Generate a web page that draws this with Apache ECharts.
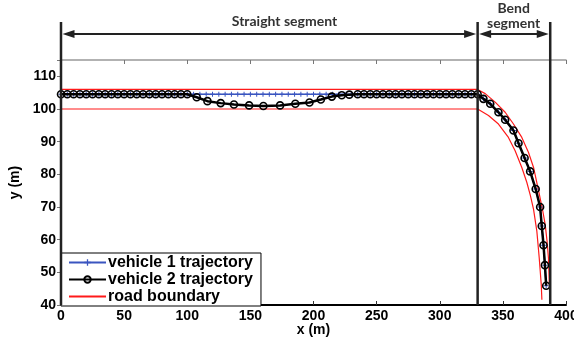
<!DOCTYPE html>
<html>
<head>
<meta charset="utf-8">
<script src="https://cdn.jsdelivr.net/npm/echarts@6/dist/echarts.min.js"></script>
<style>html,body{margin:0;padding:0;background:#fff}#c{width:574px;height:339px}</style>
</head>
<body>
<div id="c"></div>
<script>
// ---- data ----
const v1X = [0,5,10,15,20,25,30,35,40,45,50,55,60,65,70,75,80,85,90,95,100,105,110,115,120,125,130,135,140,145,150,155,160,165,170,175,180,185,190,195,200,205,210,215,220,225,230,235,240,245,250,255,260,265,270,275,280,285,290,295,300,305,310,315,320,325,330,334.6,340,346.5,351.8,358.4,362.4,367.2,371.6,376,379.5,380.8,382.2,383.3,384.3];
const v1Y = [104.5,104.5,104.5,104.5,104.5,104.5,104.5,104.5,104.5,104.5,104.5,104.5,104.5,104.5,104.5,104.5,104.5,104.5,104.5,104.5,104.5,104.5,104.5,104.5,104.5,104.5,104.5,104.5,104.5,104.5,104.5,104.5,104.5,104.5,104.5,104.5,104.5,104.5,104.5,104.5,104.5,104.5,104.5,104.5,104.5,104.5,104.5,104.5,104.5,104.5,104.5,104.5,104.5,104.5,104.5,104.5,104.5,104.5,104.5,104.5,104.5,104.5,104.5,104.5,104.5,104.5,104.5,103.1,101.6,99,96.7,93.4,89.5,85,80.9,75.5,70,64.2,58.3,52.2,45.9];

const v2X = [0,5,10,15,20,25,30,35,40,45,50,55,60,65,70,75,80,85,90,95,100,107.5,116,126.5,137,149,160.3,173.5,185.6,196.8,205.8,214.5,222.4,228.4,235,240,245,250,255,260,265,270,275,280,285,290,295,300,305,310,315,320,325,330,334.6,340,346.5,351.8,358.4,362.4,367.2,371.6,376,379.5,380.8,382.2,383.3,384.3];
const v2Y = [104.5,104.5,104.5,104.5,104.5,104.5,104.5,104.5,104.5,104.5,104.5,104.5,104.5,104.5,104.5,104.5,104.5,104.5,104.5,104.5,104.5,103.6,102.4,101.8,101.4,101.1,100.9,101.1,101.6,102,102.9,103.8,104.2,104.4,104.5,104.5,104.5,104.5,104.5,104.5,104.5,104.5,104.5,104.5,104.5,104.5,104.5,104.5,104.5,104.5,104.5,104.5,104.5,104.5,103.1,101.6,99,96.7,93.4,89.5,85,80.9,75.5,70,64.2,58.3,52.2,45.9];

const roadOuterX = [0,330,336,343.9,351.8,358.4,365,370.3,374.3,378.8,381.5,383.5,385,386.1,386.9,387.2];
const roadOuterY = [106,106,104.7,102.1,99,95.4,91.3,86.7,82.1,74,69,64.7,59.5,54.4,45.2,41];
const roadInnerX = [0,330,338.6,346.5,354.4,359.7,365,369,371.8,374.3,376.9,378.8,380.4,380.9];
const roadInnerY = [100,100,98,95.4,91.3,87.2,82.1,77.5,73.5,69.3,62.6,54.4,46.2,41.6];

const seriesNames = ['vehicle 1 trajectory','vehicle 2 trajectory','road boundary'];
const segmentBounds = [0, 330, 387.5];
const segmentLabels = ['Straight segment', 'Bend\nsegment'];
const segmentLabelX = [177, 358.5];
const xName = 'x (m)', yName = 'y (m)';

const pairs = (xs, ys) => xs.map((x, i) => [x, ys[i]]);
const FF = '"Liberation Sans", Arial, sans-serif';

const chart = echarts.init(document.getElementById('c'), null, {renderer: 'canvas'});
const lab = {fontSize: 14, fontWeight: 'bold', color: '#000', fontFamily: FF};
chart.setOption({
  animation: false,
  grid: {left: 61, right: 8, top: 60, bottom: 34, outerBoundsMode: 'none', containLabel: false},
  legend: {
    data: [
      {name: seriesNames[0]},
      {name: seriesNames[1]},
      {name: seriesNames[2], itemStyle: {color: 'rgba(0,0,0,0)', borderWidth: 0}}
    ],
    orient: 'vertical', left: 61, top: 253,
    itemWidth: 37, itemHeight: 8, itemGap: 0, padding: [1, 8, 1, 7],
    backgroundColor: '#fff', borderColor: '#000', borderWidth: 1, borderRadius: 0,
    textStyle: {fontSize: 16, fontWeight: 'bold', color: '#000', fontFamily: FF, lineHeight: 17, padding: [0,0,0,-3]},
    z: 10
  },
  xAxis: [
    {type: 'value', min: 0, max: 400, interval: 50, position: 'bottom',
     axisLine: {lineStyle: {color: '#000', width: 2}},
     axisTick: {inside: true, length: 4, lineStyle: {color: '#333'}},
     axisLabel: Object.assign({margin: 4}, lab), splitLine: {show: false},
     name: xName, nameLocation: 'middle', nameGap: 18, nameMoveOverlap: false, nameTextStyle: lab},
    {type: 'value', min: 0, max: 400, interval: 50, position: 'top',
     axisLine: {lineStyle: {color: '#999', width: 1.5}},
     axisTick: {inside: true, length: 4, lineStyle: {color: '#777'}},
     axisLabel: {show: false}, splitLine: {show: false}}
  ],
  yAxis: [
    {type: 'value', min: 40, max: 115, interval: 10, position: 'left',
     axisLine: {lineStyle: {color: '#000', width: 2}},
     axisTick: {inside: false, length: 3, lineStyle: {color: '#333'}},
     axisLabel: Object.assign({margin: 5, showMaxLabel: false}, lab), splitLine: {show: false},
     name: yName, nameLocation: 'middle', nameGap: 36, nameTextStyle: lab},
    {type: 'value', min: 40, max: 115, interval: 10, position: 'right',
     axisLine: {lineStyle: {color: '#999', width: 1.5}},
     axisTick: {inside: true, length: 4, lineStyle: {color: '#777'}},
     axisLabel: {show: false}, splitLine: {show: false}}
  ],
  series: [
    {name: seriesNames[2], type: 'line', data: pairs(roadOuterX, roadOuterY), symbol: 'none',
     lineStyle: {color: '#ff1a1a', width: 1.2}, itemStyle: {color: '#ff1a1a'}, z: 2},
    {name: seriesNames[2], type: 'line', data: pairs(roadInnerX, roadInnerY), symbol: 'none',
     lineStyle: {color: '#ff1a1a', width: 1.2}, itemStyle: {color: '#ff1a1a'}, z: 2},
    {name: seriesNames[0], type: 'line', data: pairs(v1X, v1Y),
     symbol: 'path://M4,0H6V4H10V6H6V10H4V6H0V4H4Z', symbolSize: 5,
     lineStyle: {color: '#3a55c0', width: 1.5}, itemStyle: {color: '#3a55c0'}, z: 3},
    {name: seriesNames[1], type: 'line', data: pairs(v2X, v2Y),
     symbol: 'circle', symbolSize: 7,
     lineStyle: {color: '#000', width: 2.5},
     itemStyle: {color: 'rgba(255,255,255,0)', borderColor: '#000', borderWidth: 1.6}, z: 4}
  ]
});

// ---- segment annotations placed from data values via the axes ----
const plotTop = chart.convertToPixel({gridIndex: 0}, [0, 115])[1];
const plotBottom = chart.convertToPixel({gridIndex: 0}, [0, 40])[1];
const bx = segmentBounds.map(v => chart.convertToPixel({gridIndex: 0}, [v, 40])[0]);
const lineTop = plotTop - 38, arrowY = plotTop - 26;
const col = '#222';
const g = [];
bx.forEach(x => g.push({type: 'line', shape: {x1: x, y1: lineTop, x2: x, y2: plotBottom},
  style: {stroke: col, lineWidth: 2.5}, z: 20}));
const head = 12, hh = 4;
for (let i = 0; i < bx.length - 1; i++) {
  const a = bx[i] + 1.5, b = bx[i + 1] - 1.5;
  g.push({type: 'line', shape: {x1: a + head - 2, y1: arrowY, x2: b - head + 2, y2: arrowY},
    style: {stroke: col, lineWidth: 2}, z: 20});
  g.push({type: 'polygon', shape: {points: [[a, arrowY], [a + head, arrowY - hh], [a + head, arrowY + hh]]},
    style: {fill: col}, z: 20});
  g.push({type: 'polygon', shape: {points: [[b, arrowY], [b - head, arrowY - hh], [b - head, arrowY + hh]]},
    style: {fill: col}, z: 20});
  const tx = chart.convertToPixel({gridIndex: 0}, [segmentLabelX[i], 40])[0];
  g.push({type: 'text', x: tx, y: i === 0 ? plotTop - 39 : plotTop - 44,
    style: {text: segmentLabels[i], fill: '#333', font: 'bold 14px Lato, "Open Sans", sans-serif',
      align: 'center', verticalAlign: 'middle', lineHeight: 15}, z: 20});
}
chart.setOption({graphic: g});
</script>
</body>
</html>
